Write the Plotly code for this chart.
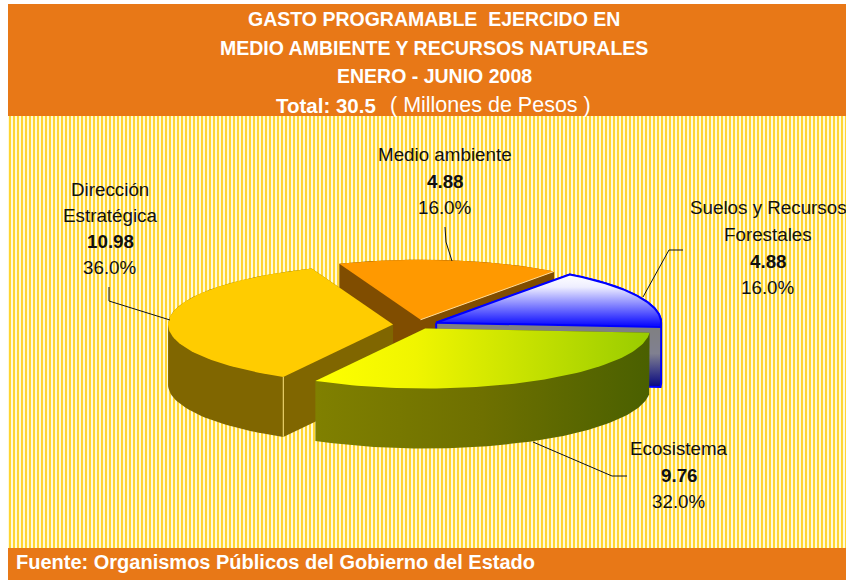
import numpy as np
import plotly.graph_objects as go

# --- data (in drawing order, counter-clockwise from the right) ---
categories = ["Suelos y Recursos Forestales", "Medio ambiente", "Dirección Estratégica", "Ecosistema"]
values = [4.88, 4.88, 10.98, 9.76]
percents = ["16.0%", "16.0%", "36.0%", "32.0%"]
label_lines = [["Suelos y Recursos", "Forestales"], ["Medio ambiente"], ["Dirección", "Estratégica"], ["Ecosistema"]]
title_lines = ["GASTO PROGRAMABLE  EJERCIDO EN", "MEDIO AMBIENTE Y RECURSOS NATURALES", "ENERO - JUNIO 2008"]
total_bold = "Total: 30.5"
total_unit = "( Millones de Pesos )"
source_line = "Fuente: Organismos Públicos del Gobierno del Estado"

# --- styling / layout ---
W, H = 846, 580
ORANGE = "#E87817"
FONT = "Liberation Sans"
CX, CY, RX, RY, DEPTH = 418, 325, 225, 60, 60
START_DEG = -4
explode = [20, 20, 25, 15]
label_x = [768, 445, 110, 679]
label_y = [[207, 234, 261, 287], [154, 181, 207], [189, 215, 241, 267], [448, 475, 501]]
leaders = [
    ([683, 669, 643], [250, 250, 297]),
    ([445, 446, 452], [227, 242, 261]),
    ([109, 109, 170], [287, 301, 320]),
    ([533, 612, 627], [442, 476, 476]),
]

total = sum(values)
edges = START_DEG + np.cumsum([0] + [v / total * 360 for v in values])


def geometry(i):
    a0, a1 = edges[i], edges[i + 1]
    mid = np.radians((a0 + a1) / 2)
    ax = CX + explode[i] * np.cos(mid)
    ay = CY - explode[i] * RY / RX * np.sin(mid)
    t = np.radians(np.linspace(a0, a1, 80))
    return ax, ay, ax + RX * np.cos(t), ay - RY * np.sin(t)


def top_poly(i):
    ax, ay, rx, ry = geometry(i)
    return np.r_[ax, rx, ax], np.r_[ay, ry, ay]


def silhouette(i):
    """Convex outline of the wedge's top swept down by DEPTH."""
    ax, ay, rx, ry = geometry(i)
    pts = sorted(set(zip(np.r_[ax, rx, ax, rx].tolist(), np.r_[ay, ry, ay + DEPTH, ry + DEPTH].tolist())))

    def half(points):
        out = []
        for p in points:
            while len(out) > 1 and (out[-1][0] - out[-2][0]) * (p[1] - out[-2][1]) - (out[-1][1] - out[-2][1]) * (p[0] - out[-2][0]) <= 0:
                out.pop()
            out.append(p)
        return out[:-1]

    hull = half(pts) + half(pts[::-1])
    hull.append(hull[0])
    return [p[0] for p in hull], [p[1] for p in hull]


fig = go.Figure()


def poly(x, y, **kw):
    kw.setdefault("line", dict(width=0))
    fig.add_trace(go.Scatter(x=x, y=y, mode="lines", fill="toself", hoverinfo="skip", showlegend=False, **kw))


def line(x, y, color, width=1):
    fig.add_trace(go.Scatter(x=x, y=y, mode="lines", line=dict(color=color, width=width),
                             hoverinfo="skip", showlegend=False))


# striped background
poly([8, W, W, 8, 8], [116, 116, 548, 548, 116],
     fillpattern=dict(shape="|", size=4, solidity=0.45, fgcolor="#FFD21F", bgcolor="#FFF9D8", fillmode="replace"))

# Medio ambiente
i = 1
x, y = silhouette(i)
poly(x, y, fillcolor="#804D00")
x, y = top_poly(i)
poly(x, y, fillcolor="#FF9900")
ax, ay, rx, ry = geometry(i)
line([ax, rx[0]], [ay, ry[0]], "#FFDD99", 1)

# Dirección Estratégica
i = 2
x, y = silhouette(i)
poly(x, y, fillcolor="#806600")
x, y = top_poly(i)
poly(x, y, fillcolor="#FFCC00")
ax, ay, rx, ry = geometry(i)
line([rx[-1], rx[-1]], [ry[-1], ry[-1] + DEPTH], "#FFE680", 1)

# Suelos y Recursos Forestales
i = 0
x, y = silhouette(i)
ax, ay, rx, ry = geometry(i)
poly(x, y, line=dict(width=2, color="#0000FF"),
     fillgradient=dict(type="vertical", colorscale=[[0, "#808080"], [0.45, "#808090"], [1, "#000080"]],
                       start=ay + 2, stop=ay + DEPTH + 6))
x, y = top_poly(i)
poly(x, y, line=dict(width=2, color="#0000FF"),
     fillgradient=dict(type="vertical", colorscale=[[0, "#FFFFFF"], [0.25, "#EEEEFF"], [1, "#1010FF"]],
                       start=float(min(ry)), stop=ay + 2))

# Ecosistema
i = 3
ax, ay, rx, ry = geometry(i)
xmin, xmax = float(min(rx)), float(max(rx))
x, y = silhouette(i)
poly(x, y, fillgradient=dict(type="horizontal", colorscale=[[0, "#808000"], [0.5, "#6E7000"], [1, "#4A6000"]],
                             start=xmin, stop=xmax))
x, y = top_poly(i)
poly(x, y, fillgradient=dict(type="horizontal", colorscale=[[0, "#FFFF00"], [0.3, "#F0F500"], [1, "#99CC00"]],
                             start=xmin, stop=xmax))

# leader lines
for lx, ly in leaders:
    line(lx, ly, "#111111", 1)

# header / footer bands
shapes = [
    dict(type="rect", xref="x", yref="y", x0=8, x1=W, y0=4, y1=116, fillcolor=ORANGE, line_width=0, layer="below"),
    dict(type="rect", xref="x", yref="y", x0=8, x1=W, y0=548, y1=H, fillcolor=ORANGE, line_width=0, layer="below"),
]

annotations = []


def text(s, x, y, size, color="#111111", anchor="center"):
    annotations.append(dict(text=s, x=x, y=y, xref="x", yref="y", showarrow=False, xanchor=anchor, yanchor="middle",
                            font=dict(family=FONT, size=size, color=color)))


for s, y in zip(title_lines, [19, 48, 76]):
    text(f"<b>{s}</b>", 434, y, 19.5, "white")
text(f"<b>{total_bold}</b>", 274, 105, 20.5, "white", "left")
text(total_unit, 388, 104.5, 21.5, "white", "left")
text(f"<b>{source_line}</b>", 14, 562, 20, "white", "left")

for i in range(len(categories)):
    rows = list(label_lines[i]) + [f"<b>{values[i]:.2f}</b>", percents[i]]
    for s, y in zip(rows, label_y[i]):
        text(s, label_x[i], y, 18.8)

fig.update_layout(
    width=W, height=H, margin=dict(l=0, r=0, t=0, b=0),
    paper_bgcolor="white", plot_bgcolor="white", showlegend=False,
    xaxis=dict(range=[0, W], visible=False, fixedrange=True),
    yaxis=dict(range=[H, 0], visible=False, fixedrange=True),
    shapes=shapes, annotations=annotations,
)
fig.write_html("out.html", config=dict(displayModeBar=False),
               post_script="document.body.style.margin='0';document.body.style.overflow='hidden';")
